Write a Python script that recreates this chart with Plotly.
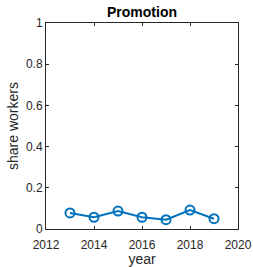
import plotly.graph_objects as go

years = [2013, 2014, 2015, 2016, 2017, 2018, 2019]
share = [0.078, 0.057, 0.087, 0.057, 0.045, 0.092, 0.050]
x_ticks = [2012, 2014, 2016, 2018, 2020]
y_ticks = [0, 0.2, 0.4, 0.6, 0.8, 1]
y_ticklabels = ["0", "0.2", "0.4", "0.6", "0.8", "1"]

color = "#0072BD"
fig = go.Figure()
fig.add_trace(go.Scatter(
    x=years, y=share, mode="lines+markers",
    line=dict(color=color, width=2),
    marker=dict(symbol="circle-open", size=9, color=color, line=dict(width=2, color=color)),
    showlegend=False, cliponaxis=False,
))

FONT = "Liberation Sans, Arial, sans-serif"
axis_common = dict(
    showline=True, linecolor="#262626", linewidth=1, mirror="ticks",
    ticks="inside", ticklen=3, tickcolor="#262626", tickwidth=1,
    showgrid=False, zeroline=False, automargin=False,
    tickfont=dict(family=FONT, size=12, color="#262626"),
)
fig.update_layout(
    width=253, height=267,
    margin=dict(l=46, r=15, t=23, b=38),
    paper_bgcolor="white", plot_bgcolor="white",
    font=dict(family=FONT, color="#262626"),
    title=dict(text="<b>Promotion</b>", xref="paper", x=0.5, xanchor="center",
               yref="paper", y=1, yanchor="bottom", pad=dict(b=6),
               font=dict(size=14, color="#000000")),
    xaxis=dict(range=[2012, 2020], tickvals=x_ticks, ticktext=[str(v) for v in x_ticks],
               ticklabelstandoff=5,
               title=dict(text="year", font=dict(size=14), standoff=0), **axis_common),
    yaxis=dict(range=[0, 1], tickvals=y_ticks, ticktext=y_ticklabels,
               title=dict(text="share workers", font=dict(size=14), standoff=4), **axis_common),
)
fig.write_html("out.html", config={"displayModeBar": False},
               post_script="document.body.style.margin='0';")
